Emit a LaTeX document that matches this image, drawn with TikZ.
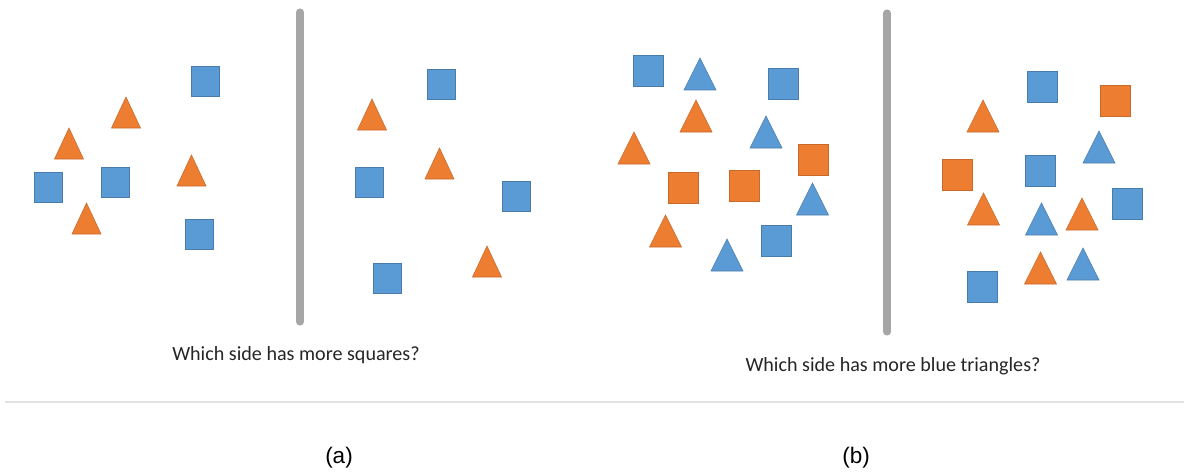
\documentclass[tikz,border=0pt]{standalone}
\usepackage{fontspec}
\setmainfont{Carlito}
\newfontfamily\labelfont{Liberation Sans}
\usepackage{tikz}
\usetikzlibrary{positioning}
\usepackage{xcolor}
\definecolor{shapeblue}{HTML}{5B9BD5}
\definecolor{shapeorange}{HTML}{ED7D31}
\definecolor{barGray}{HTML}{A6A6A6}
\definecolor{ruleGray}{HTML}{E3E3E3}

\begin{document}
\begin{tikzpicture}[x=0.025cm, y=-0.025cm,
	bsq/.style={fill=shapeblue, draw=shapeblue!80!black, line width=0.4pt},
	osq/.style={fill=shapeorange, draw=shapeorange!85!black, line width=0.4pt},
	btri/.style={fill=shapeblue, draw=shapeblue!80!black, line width=0.4pt, line join=miter},
	otri/.style={fill=shapeorange, draw=shapeorange!85!black, line width=0.4pt, line join=miter},
	bar/.style={draw=barGray, line width=5pt, line cap=round},
	question/.style={anchor=base, text=black!85, font=\fontsize{14.3}{17}\selectfont},
	caption/.style={text=black, font=\labelfont\fontsize{16}{19}\selectfont}
]
	\fill[white] (0,0) rectangle (1184,473);
	\useasboundingbox (0,0) rectangle (1184,473);

	% Panel (a): squares only blue, triangles only orange
	\foreach \x/\y in {205/81, 48.5/187, 115/182, 199/234.5, 441/84, 369/182, 516/196.5, 387/278}
		\filldraw[bsq] (\x-14,\y-15) rectangle (\x+14,\y+15);
	\foreach \x/\y in {126/128, 69/159, 191.5/186, 86.5/234, 372/130, 439.5/179, 487/277}
		\filldraw[otri] (\x-14.5,\y) -- (\x+14.5,\y) -- (\x,\y-31) -- cycle;
	\draw[bar] (300,12) -- (300,322);

	% Panel (b): both colours, both shapes
	\foreach \x/\y in {648/70.5, 783/83.5, 776/241, 1042/86.5, 1040/170.5, 1127/203.5, 982/286.5}
		\filldraw[bsq] (\x-15,\y-15.5) rectangle (\x+15,\y+15.5);
	\foreach \x/\y in {813/160, 683/188, 744.5/185.5, 1115/101, 957/175}
		\filldraw[osq] (\x-15,\y-15.5) rectangle (\x+15,\y+15.5);
	\foreach \x/\y in {700/90, 766/148, 812.5/215, 727/271, 1099/163, 1041.5/235, 1083/280}
		\filldraw[btri] (\x-16,\y) -- (\x+16,\y) -- (\x,\y-32) -- cycle;
	\foreach \x/\y in {696/132, 634/164, 665.5/247, 983/132, 983.5/225, 1082/230, 1040.5/284}
		\filldraw[otri] (\x-16,\y) -- (\x+16,\y) -- (\x,\y-32) -- cycle;
	\draw[bar] (887,13) -- (887,332);

	% Questions
	\node[question] (qa) at (296,360) {Which side has more squares?};
	\node[question] (qb) at (893,371) {Which side has more blue triangles?};

	% Separator and captions
	\draw[ruleGray, line width=1.2pt] (5,402) -- (1184,402);
	\node[caption] (capa) at (339,458) {(a)};
	\node[caption] (capb) at (856,458) {(b)};
\end{tikzpicture}
\end{document}
